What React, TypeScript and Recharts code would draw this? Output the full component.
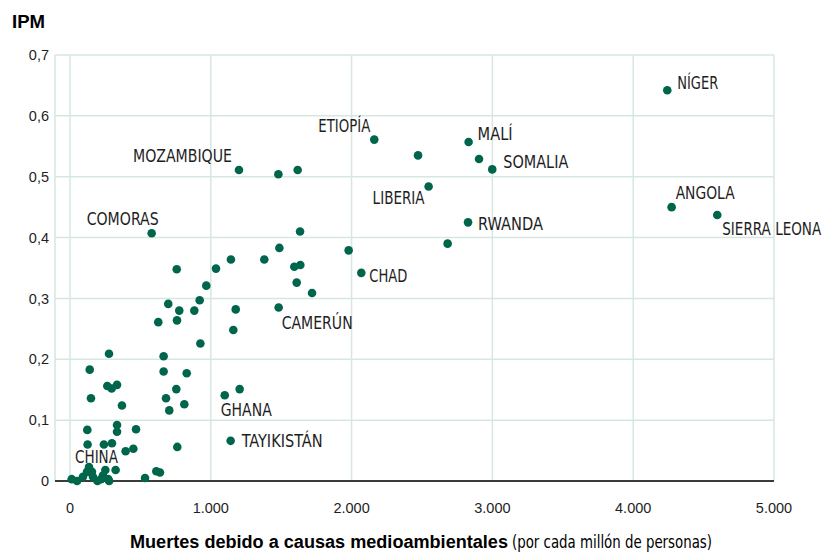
import React from 'react';
import { ScatterChart, Scatter, XAxis, YAxis, CartesianGrid, Label } from 'recharts';

// Labeled countries
const LABELED_NAMES = ['NÍGER', 'ANGOLA', 'SIERRA LEONA', 'MALÍ', 'SOMALIA', 'ETIOPÍA', 'LIBERIA', 'RWANDA', 'CHAD', 'CAMERÚN', 'GHANA', 'TAYIKISTÁN', 'MOZAMBIQUE', 'COMORAS', 'CHINA'];
const LABELED_DEATHS = [4242, 4273, 4597, 2831, 2999, 2161, 2547, 2827, 2069, 1482, 1099, 1141, 1200, 580, 135];
const LABELED_IPM = [0.642, 0.45, 0.437, 0.557, 0.512, 0.561, 0.484, 0.425, 0.342, 0.285, 0.141, 0.066, 0.511, 0.407, 0.023];

// Other countries (unlabeled)
const OTHER_DEATHS = [
  1480, 1617, 2472, 2905, 2682, 1634, 1487, 1380, 1979, 1593, 1636, 1610, 1719,
  758, 1037, 1143, 968, 921, 698, 776, 883, 1177, 627, 760, 1160, 926,
  665, 665, 829, 755, 682, 812, 705, 1205, 469, 762,
  277, 140, 265, 296, 334, 149, 369, 334, 334, 123, 125, 241, 298, 395, 450,
  251, 324, 272, 533, 613, 639,
  12, 50, 92, 121, 156, 163, 195, 220, 234, 278,
];
const OTHER_IPM = [
  0.504, 0.511, 0.535, 0.529, 0.39, 0.41, 0.383, 0.364, 0.379, 0.352, 0.355, 0.326, 0.309,
  0.348, 0.349, 0.364, 0.321, 0.297, 0.291, 0.28, 0.28, 0.282, 0.261, 0.264, 0.248, 0.226,
  0.205, 0.18, 0.177, 0.151, 0.136, 0.126, 0.116, 0.151, 0.085, 0.056,
  0.209, 0.183, 0.156, 0.152, 0.158, 0.136, 0.124, 0.092, 0.081, 0.084, 0.06, 0.06, 0.062, 0.049, 0.053,
  0.018, 0.018, 0.003, 0.005, 0.016, 0.014,
  0.003, 0.0, 0.007, 0.015, 0.015, 0.007, 0.0, 0.003, 0.009, 0.0,
];

const X_TICKS = [0, 1000, 2000, 3000, 4000, 5000];
const Y_TICKS = [0, 0.1, 0.2, 0.3, 0.4, 0.5, 0.6, 0.7];

// label placement relative to dot (px): dx, dy, anchor, text width
const LABEL_POS: Record<string, [number, number, 'start' | 'end', number]> = {
  'NÍGER': [10, -1, 'start', 41],
  'ANGOLA': [4, -8, 'start', 59],
  'SIERRA LEONA': [5, 20, 'start', 99],
  'MALÍ': [9, -2, 'start', 35],
  'SOMALIA': [11, -1, 'start', 65],
  'ETIOPÍA': [-4, -8, 'end', 52],
  'LIBERIA': [-4, 18, 'end', 52],
  'RWANDA': [10, 8, 'start', 65],
  'CHAD': [8, 9, 'start', 38],
  'CAMERÚN': [3, 21, 'start', 71],
  'GHANA': [-4, 21, 'start', 51],
  'TAYIKISTÁN': [11, 6, 'start', 81],
  'MOZAMBIQUE': [-7, -8, 'end', 99],
  'COMORAS': [7, -8, 'end', 72],
  'CHINA': [-14, -4, 'start', 43],
};

const DOT = '#00664b';
const GRID = '#d5e7e0';
const TEXT = '#1e1e1e';
const NARROW = "'DejaVu Sans Condensed', 'Liberation Sans', sans-serif";
const SANS = "'Liberation Sans', Arial, sans-serif";

const otherData = OTHER_DEATHS.map((x, i) => ({ x, y: OTHER_IPM[i], name: '' }));
const labeledData = LABELED_NAMES.map((name, i) => ({ x: LABELED_DEATHS[i], y: LABELED_IPM[i], name }));

const fmtX = (v: number) => String(v).replace(/\B(?=(\d{3})+(?!\d))/g, '.');
const fmtY = (v: number) => (v === 0 ? '0' : v.toFixed(1).replace('.', ','));

const renderDot = (props: any) => {
  const { cx, cy, payload } = props;
  const name = payload && payload.name;
  const pos = name ? LABEL_POS[name] : null;
  return (
    <g>
      <circle cx={cx} cy={cy} r={4.3} fill={DOT} />
      {pos && (
        <text
          x={cx + pos[0]}
          y={cy + pos[1]}
          textAnchor={pos[2]}
          textLength={pos[3]}
          lengthAdjust="spacingAndGlyphs"
          fontFamily={NARROW}
          fontSize={17}
          fill={TEXT}
        >
          {name}
        </text>
      )}
    </g>
  );
};

const XTitle = () => (
  <g>
    <text x={130} y={548} fill="#000" fontFamily={SANS} fontWeight="bold" fontSize={18} textLength={378} lengthAdjust="spacingAndGlyphs">
      Muertes debido a causas medioambientales
    </text>
    <text x={512} y={548} fill="#000" fontFamily={NARROW} fontSize={17} textLength={200} lengthAdjust="spacingAndGlyphs">
      (por cada millón de personas)
    </text>
  </g>
);

const YTitle = () => (
  <text x={12} y={28} fill="#000" fontFamily={SANS} fontWeight="bold" fontSize={19} textLength={33} lengthAdjust="spacingAndGlyphs">
    IPM
  </text>
);

export default function App() {
  return (
    <div style={{ position: 'absolute', left: 0, top: 0, width: 825, height: 554, background: '#fff' }}>
      <ScatterChart width={825} height={554} margin={{ top: 55, right: 51, left: 0, bottom: 0 }}>
        <CartesianGrid stroke={GRID} strokeWidth={1.5} />
        <XAxis
          type="number"
          dataKey="x"
          domain={[-106.5, 5000]}
          ticks={X_TICKS}
          tickFormatter={fmtX}
          tickLine={false}
          axisLine={{ stroke: '#000', strokeWidth: 1.5 }}
          tickSize={0}
          tickMargin={22}
          height={73}
          tick={{ fontSize: 14.5, fill: TEXT, fontFamily: SANS }}
        >
          <Label content={<XTitle />} />
        </XAxis>
        <YAxis
          type="number"
          dataKey="y"
          domain={[0, 0.7]}
          ticks={Y_TICKS}
          tickFormatter={fmtY}
          tickLine={false}
          axisLine={false}
          tickSize={0}
          tickMargin={6}
          width={55}
          tick={{ fontSize: 14.5, fill: TEXT, fontFamily: SANS }}
        >
          <Label content={<YTitle />} />
        </YAxis>
        <Scatter data={otherData} shape={renderDot} isAnimationActive={false} />
        <Scatter data={labeledData} shape={renderDot} isAnimationActive={false} />
      </ScatterChart>
    </div>
  );
}
